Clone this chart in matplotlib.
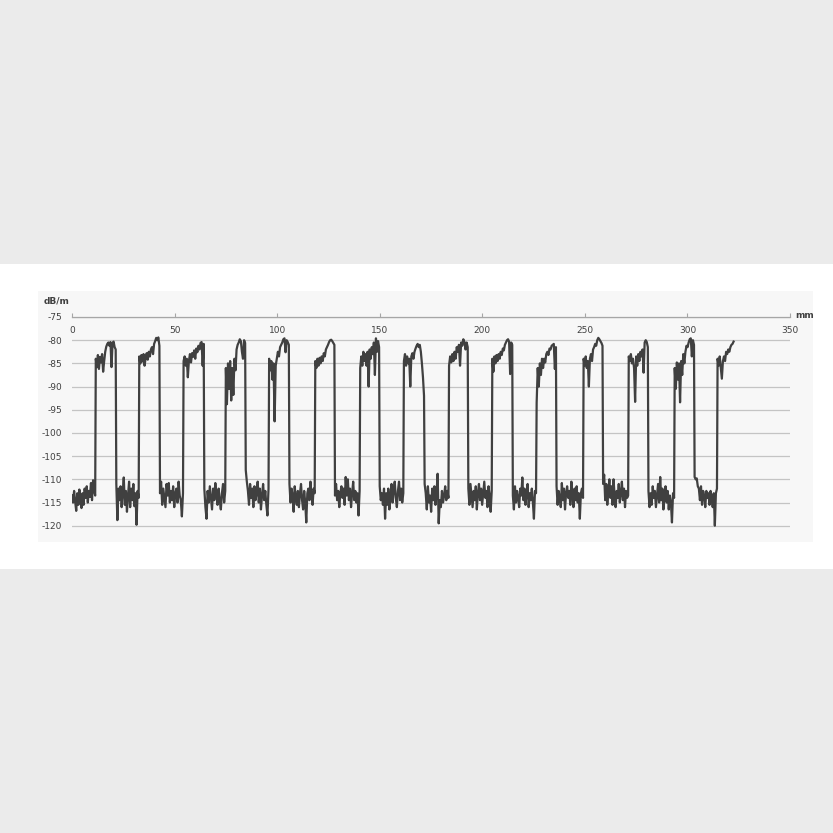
import matplotlib
matplotlib.use("Agg")
import matplotlib.pyplot as plt
import numpy as np
from matplotlib.patches import Rectangle

plt.rcParams["axes.unicode_minus"] = False

# trace: each run (trough or crest) spans start..end mm,
# with its samples spread evenly over that span
seg_start_mm = [0.0, 11.6, 21.6, 32.8, 42.9, 54.4, 64.5, 75.0, 84.7, 96.1,
                106.0, 118.6, 128.2, 140.5, 150.0, 161.8, 171.9, 183.8, 193.2, 204.9,
                214.9, 226.5, 236.2, 249.4, 258.9, 271.4, 281.0, 293.8, 303.5, 314.7]
seg_end_mm = [11.3, 21.3, 32.5, 42.6, 54.1, 64.2, 74.7, 84.4, 95.8, 105.7,
              118.3, 127.9, 140.2, 149.7, 161.5, 171.6, 183.5, 192.9, 204.6, 214.6,
              226.2, 235.9, 249.1, 258.6, 271.1, 280.7, 293.5, 303.2, 314.4, 322.5]
seg_level_db = [
    [-113.5, -115.0, -112.5, -114.8, -116.8, -113.0, -115.5, -112.2, -114.6, -116.2, -113.0, -115.5,
     -112.0, -114.0, -111.5, -115.0, -112.5, -113.8, -110.8, -114.5, -110.2, -112.5, -113.5],
    [-84.0, -85.8, -83.2, -86.2, -83.6, -84.8, -83.0, -86.8, -84.5, -82.5, -81.4, -80.8,
     -80.5, -81.2, -80.4, -85.8, -80.6, -80.3, -81.5, -82.0],
    [-111.0, -118.8, -112.0, -114.5, -111.5, -116.0, -113.0, -109.6, -115.5, -112.5, -117.0,
     -113.5, -110.5, -116.0, -112.0, -114.5, -111.0, -115.8, -113.0, -119.8, -112.5, -114.0],
    [-83.5, -85.0, -83.2, -84.6, -83.0, -85.5, -83.8, -82.8, -84.2, -82.5, -83.5, -82.0,
     -81.5, -83.0, -80.8, -80.2, -79.5, -80.0, -79.4, -81.2],
    [-113.0, -110.5, -115.5, -112.0, -114.0, -116.0, -111.0, -113.5, -110.8, -115.0, -112.5,
     -114.5, -111.5, -116.0, -113.0, -112.0, -115.0, -110.5, -113.5, -114.5, -118.0, -113.0],
    [-84.5, -83.5, -85.5, -84.0, -88.0, -84.5, -83.0, -84.8, -82.8, -83.6, -82.2, -84.0,
     -81.8, -82.6, -81.2, -82.0, -80.6, -80.4, -85.5, -80.8],
    [-112.0, -116.0, -118.5, -112.5, -115.0, -111.5, -114.0, -116.5, -112.0, -114.5, -110.8,
     -113.5, -115.5, -112.0, -114.5, -116.5, -113.0, -111.0, -115.0, -112.5],
    [-86.0, -93.8, -85.0, -90.5, -84.5, -93.0, -86.0, -91.8, -84.0, -86.5, -82.0, -81.0,
     -80.5, -79.8, -80.2, -82.5, -84.0, -80.0, -80.6],
    [-108.0, -110.5, -112.5, -115.5, -111.0, -114.0, -112.0, -116.0, -111.5, -114.5, -113.0,
     -110.5, -115.0, -112.0, -116.5, -113.5, -111.0, -114.5, -112.5, -115.5, -117.8, -112.0],
    [-84.0, -86.5, -84.5, -88.5, -85.0, -97.5, -85.5, -84.0, -82.5, -83.5, -81.5, -81.0,
     -80.5, -79.8, -79.6, -82.6, -80.0, -80.4, -81.0],
    [-111.0, -115.0, -112.0, -113.5, -117.0, -111.5, -114.0, -115.5, -112.5, -116.0, -113.0,
     -111.0, -114.5, -116.5, -112.5, -115.0, -119.3, -113.0, -112.0, -114.5, -110.5, -113.5,
     -115.5, -112.0, -113.0],
    [-84.5, -86.0, -84.0, -85.5, -83.8, -85.0, -83.5, -84.5, -82.8, -83.5, -82.0, -81.5,
     -81.0, -80.4, -80.0, -79.9, -80.2, -80.6, -81.0],
    [-113.5, -111.0, -114.5, -112.5, -116.0, -113.0, -111.5, -114.0, -112.0, -115.5, -109.5,
     -113.5, -110.0, -114.5, -112.0, -116.0, -113.0, -110.5, -114.5, -112.5, -115.0, -113.0,
     -117.8, -112.5],
    [-86.0, -83.5, -85.5, -82.5, -84.5, -83.0, -85.5, -82.5, -90.0, -82.0, -84.0, -81.5,
     -83.0, -80.5, -87.5, -79.6, -82.5, -80.2, -81.5],
    [-111.5, -114.5, -113.0, -115.5, -112.0, -118.5, -113.0, -115.5, -112.0, -116.5, -114.0,
     -111.0, -115.0, -112.5, -110.5, -114.0, -116.0, -112.5, -110.5, -114.5, -112.0, -115.0,
     -113.0],
    [-84.5, -83.0, -85.5, -83.5, -85.0, -84.0, -90.0, -83.5, -82.8, -84.0, -82.5, -81.8,
     -81.2, -80.8, -81.5, -81.0, -82.5, -85.0, -88.0, -92.0],
    [-111.0, -113.0, -116.5, -111.5, -115.0, -113.5, -117.0, -112.0, -114.5, -111.5, -115.5,
     -113.0, -108.8, -119.5, -114.5, -116.0, -112.5, -115.0, -113.5, -111.5, -114.5, -112.5,
     -114.0],
    [-85.5, -83.5, -84.8, -83.0, -84.5, -82.5, -84.0, -81.5, -82.5, -81.0, -85.5, -80.5,
     -81.2, -79.8, -80.4, -82.0, -80.5, -81.5],
    [-112.0, -115.5, -111.0, -113.5, -116.0, -112.5, -114.5, -111.5, -116.5, -113.0, -111.0,
     -114.5, -112.0, -115.5, -113.0, -110.5, -114.0, -112.5, -116.0, -111.5, -113.5, -117.0,
     -112.5],
    [-84.0, -86.8, -83.5, -85.0, -83.2, -84.5, -83.0, -84.0, -82.5, -83.2, -81.8, -82.2,
     -81.0, -80.5, -80.0, -79.8, -80.3, -87.3, -80.5, -81.0],
    [-113.5, -116.5, -111.5, -115.0, -112.5, -114.0, -116.0, -112.0, -113.5, -109.6, -114.5,
     -112.0, -115.5, -113.0, -111.0, -116.0, -113.0, -114.5, -112.0, -115.0, -118.5, -112.5,
     -113.0],
    [-93.5, -86.0, -90.0, -85.0, -87.5, -84.0, -86.0, -84.0, -84.8, -83.0, -82.5, -83.2,
     -81.8, -82.0, -81.2, -81.0, -80.8, -86.2, -81.5],
    [-111.5, -115.5, -112.5, -114.0, -116.0, -110.8, -114.5, -112.0, -116.5, -113.0, -111.5,
     -114.0, -112.5, -115.5, -110.5, -113.5, -116.0, -112.0, -114.5, -111.5, -115.0, -113.0,
     -118.5, -113.0, -112.0, -114.0],
    [-84.0, -85.5, -83.5, -86.0, -84.5, -90.0, -84.0, -83.0, -84.5, -82.0, -81.5, -80.8,
     -81.2, -80.0, -79.5, -79.8, -80.2, -80.6, -81.2],
    [-111.0, -109.0, -114.5, -111.0, -115.5, -112.5, -110.0, -114.0, -111.5, -115.5, -110.0,
     -113.5, -116.0, -112.5, -114.0, -111.0, -115.0, -113.0, -110.5, -114.5, -112.0, -116.0,
     -112.5, -114.0, -113.5],
    [-83.5, -84.5, -83.0, -85.0, -84.0, -86.0, -93.3, -83.5, -85.5, -83.0, -84.5, -82.5,
     -83.5, -82.0, -87.0, -80.5, -80.0, -80.4, -81.5],
    [-112.5, -116.0, -113.0, -115.5, -111.5, -114.0, -112.5, -116.0, -113.5, -111.0, -115.0,
     -109.5, -114.5, -112.0, -116.5, -113.0, -111.5, -115.0, -112.5, -116.5, -113.5, -115.0,
     -119.3, -113.0, -114.0],
    [-86.0, -90.5, -84.8, -88.5, -85.0, -93.4, -84.5, -87.5, -83.0, -85.0, -82.5, -81.2,
     -81.5, -80.5, -79.8, -79.6, -83.5, -80.0, -81.0],
    [-109.5, -110.0, -109.8, -111.5, -112.0, -114.5, -111.5, -115.5, -112.5, -113.5, -116.0,
     -112.5, -114.0, -113.0, -115.5, -112.5, -114.0, -116.0, -113.0, -120.0, -113.0, -112.0],
    [-84.0, -85.5, -83.5, -86.0, -88.3, -84.5, -83.5, -84.5, -82.5, -83.0, -82.0, -82.5,
     -81.5, -81.0, -80.8, -80.3],
]

x_ticks = [0, 50, 100, 150, 200, 250, 300, 350]
y_ticks = [-75, -80, -85, -90, -95, -100, -105, -110, -115, -120]

pos_mm = np.concatenate([np.linspace(a, b, len(v))
                         for a, b, v in zip(seg_start_mm, seg_end_mm, seg_level_db)])
loss_db = np.concatenate([np.asarray(v) for v in seg_level_db])

fig = plt.figure(figsize=(8.33, 8.33), dpi=100)
fig.patch.set_facecolor("#ebebeb")
W, H = 833.0, 833.0

# white band and light panel behind the chart
fig.patches.append(Rectangle((0, 1 - 569 / H), 1, (569 - 264) / H,
                             transform=fig.transFigure, facecolor="white", edgecolor="none", zorder=-2))
fig.patches.append(Rectangle((38 / W, 1 - 542 / H), (813 - 38) / W, (542 - 291) / H,
                             transform=fig.transFigure, facecolor="#f7f7f7", edgecolor="none", zorder=-1))

# -75 sits at y=317 px, -120 at y=525.7 px; keep a little room under -120
y_lo = -120.4
px_per_db = (525.7 - 317) / 45.0
bottom_px = 317 + (-75 - y_lo) * px_per_db
ax = fig.add_axes([72 / W, 1 - bottom_px / H, (790 - 72) / W, (bottom_px - 317) / H])
ax.set_facecolor("none")

ax.plot(pos_mm, loss_db, color="#404040", lw=1.6, zorder=3)

ax.set_xlim(0, 350)
ax.set_ylim(y_lo, -75)
ax.set_xticks(x_ticks)
ax.set_yticks(y_ticks)

for s in ["left", "right", "bottom"]:
    ax.spines[s].set_visible(False)
ax.spines["top"].set_color("#a6a6a6")
ax.spines["top"].set_linewidth(0.9)

ax.yaxis.grid(True, color="#c4c4c4", lw=0.9)
ax.set_axisbelow(True)

ax.tick_params(axis="x", top=True, bottom=False, labeltop=True, labelbottom=False,
               direction="out", length=3, width=0.8, color="#a6a6a6",
               pad=-16, labelsize=6.5, labelcolor="#404040")
ax.tick_params(axis="y", length=0, pad=7, labelsize=6.5, labelcolor="#404040")

fig.text(57 / W, 1 - 301 / H, "dB/m", ha="center", va="center", fontsize=6.5,
         fontweight="bold", color="#404040")
fig.text(795 / W, 1 - 316 / H, "mm", ha="left", va="center", fontsize=6.5,
         fontweight="bold", color="#404040")

fig.savefig("out.png", dpi=100, facecolor=fig.get_facecolor())
